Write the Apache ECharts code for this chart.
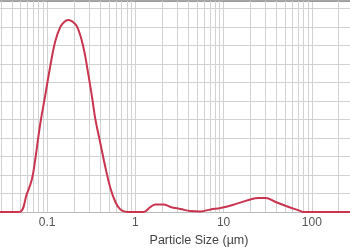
<!DOCTYPE html>
<html>
<head>
<meta charset="utf-8">
<script src="https://cdn.jsdelivr.net/npm/echarts@6/dist/echarts.min.js"></script>
<style>html,body{margin:0;padding:0;background:#fff;}#c{width:350px;height:250px;}</style>
</head>
<body>
<div id="c"></div>
<script>
// Particle size (µm) and distribution values
const sizes = [0.01, 0.03, 0.048, 0.059, 0.067, 0.073, 0.083, 0.095, 0.108, 0.123, 0.141, 0.156, 0.173, 0.192, 0.219, 0.257, 0.292, 0.325, 0.351, 0.400, 0.456, 0.520, 0.593, 0.676, 0.811, 1.0, 1.233, 1.479, 1.687, 2.08, 2.50, 3.25, 4.22, 5.48, 7.11, 9.24, 12.65, 19.2, 25.0, 30.0, 39.0, 54.8, 75.0, 79.0, 277, 1000];
const values = [0, 0, 0, 1.0, 1.75, 2.8, 4.7, 6.3, 7.85, 9.2, 10.0, 10.27, 10.38, 10.3, 10.0, 8.92, 7.46, 6.1, 5.03, 3.73, 2.43, 1.3, 0.54, 0.14, 0, 0, 0, 0.27, 0.41, 0.41, 0.27, 0.16, 0.05, 0.03, 0.14, 0.22, 0.38, 0.65, 0.76, 0.76, 0.54, 0.27, 0.05, 0, 0, 0];
const decades = [0.01, 0.1, 1, 10, 100];
const minorSteps = [2, 3, 4, 5, 6, 7, 8, 9];
const tickLabels = {"0.01": "0.01", "0.1": "0.1", "1": "1", "10": "10", "100": "100", "1000": "1000"};

const gridColor = '#d2d2d2';
const minorLines = [];
decades.forEach(d => minorSteps.forEach(k => minorLines.push({ xAxis: +(d * k).toPrecision(6) })));

const chart = echarts.init(document.getElementById('c'), null, { renderer: 'canvas' });
chart.setOption({
  animation: false,
  grid: { left: -41, right: -50, top: 1, bottom: 38, containLabel: false, outerBoundsMode: 'none' },
  xAxis: [{
    type: 'log', logBase: 10, min: 0.01, max: 1000,
    axisLine: { show: true, lineStyle: { color: '#bbb', width: 1 } },
    axisTick: { show: false },
    splitLine: { show: true, lineStyle: { color: gridColor, width: 1 } },
    axisLabel: {
      show: true, margin: 5, color: '#555', fontSize: 12, fontFamily: 'Liberation Sans, Arial, sans-serif',
      formatter: v => tickLabels[String(+v.toPrecision(6))] || ''
    },
    name: 'Particle Size (µm)', nameLocation: 'middle', nameGap: 22,
    nameTextStyle: { color: '#444', fontSize: 12.5, fontFamily: 'Liberation Sans, Arial, sans-serif', padding: [0, 0, 0, 39] }
  }, {
    type: 'log', logBase: 10, min: 0.01, max: 1000, position: 'top',
    axisLine: { show: true, lineStyle: { color: '#8a8a8a', width: 1.5 } },
    axisTick: { show: false }, axisLabel: { show: false }, splitLine: { show: false }
  }],
  yAxis: {
    type: 'value', min: 0, max: 11.4, interval: 1,
    axisLine: { show: false }, axisTick: { show: false }, axisLabel: { show: false },
    splitLine: { show: true, lineStyle: { color: gridColor, width: 1 } }
  },
  series: [{
    type: 'line',
    data: sizes.map((s, i) => [s, values[i]]),
    showSymbol: false, symbol: 'none',
    smooth: 0.4,
    lineStyle: { color: '#c9344f', width: 2 },
    z: 5,
    markLine: {
      silent: true, symbol: 'none', animation: false,
      label: { show: false },
      lineStyle: { color: gridColor, type: 'solid', width: 1 },
      emphasis: { disabled: true },
      data: minorLines,
      z: 1
    }
  }]
});
</script>
</body>
</html>
